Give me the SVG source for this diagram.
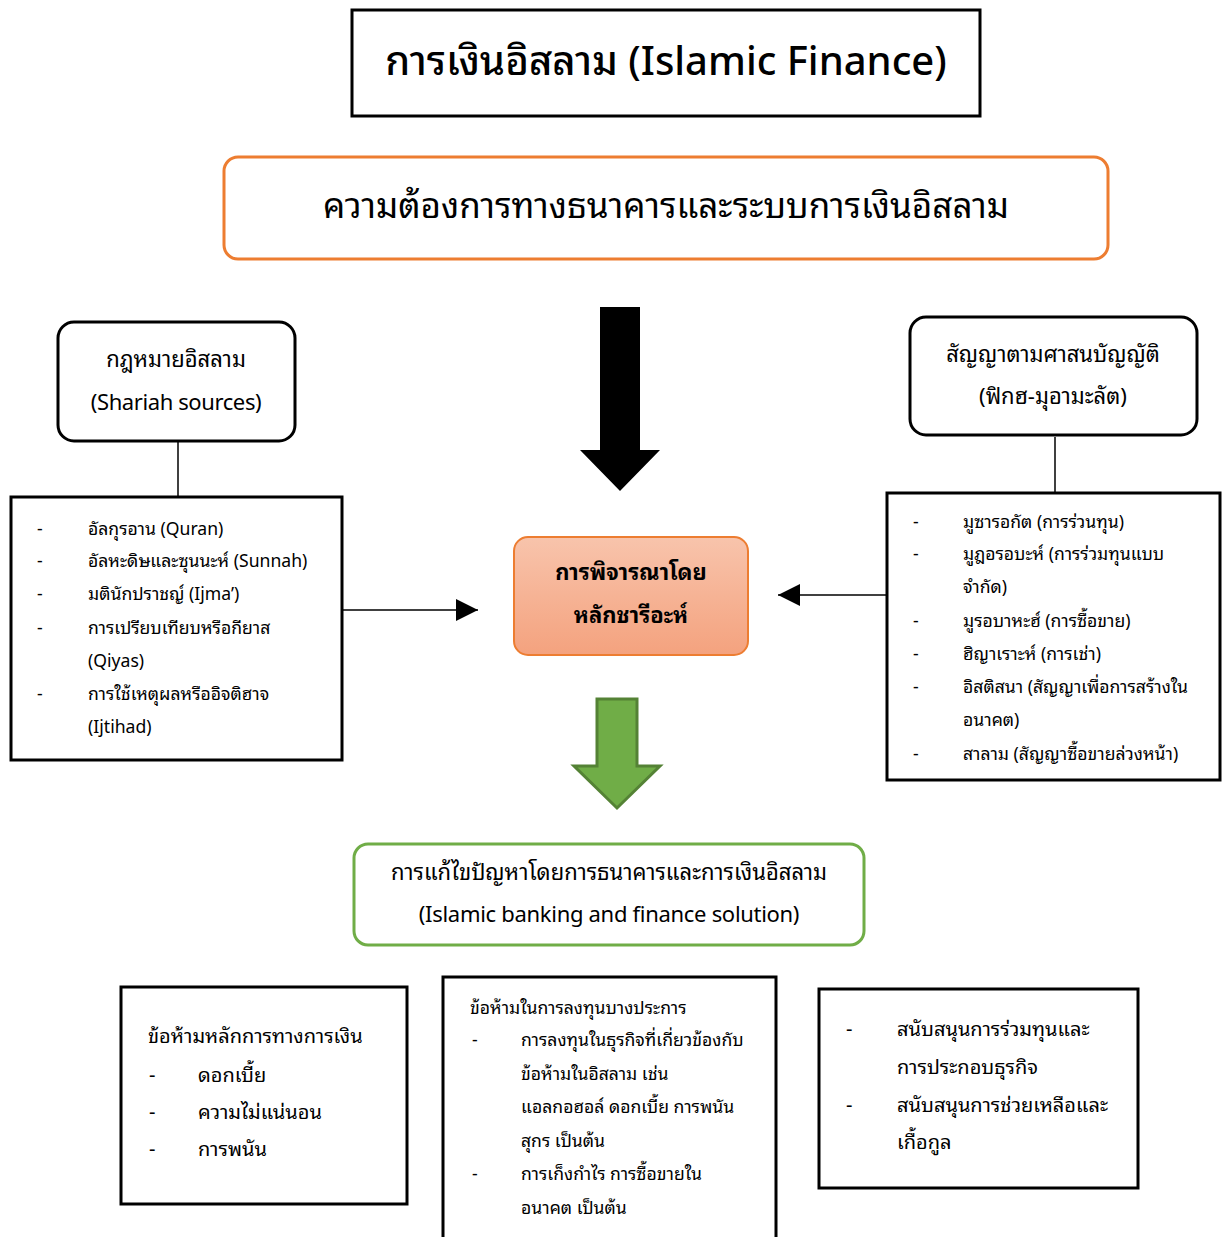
<svg xmlns="http://www.w3.org/2000/svg" width="1228" height="1237" viewBox="0 0 1228 1237">
<defs>
<style>
text{font-family:"Noto Sans","Noto Sans Thai Looped","Noto Sans Thai","Liberation Sans",sans-serif;fill:#000}
.box{fill:#fff;stroke:#000;stroke-width:3}
.c{text-anchor:middle}
.t18{font-size:17.6px}
.t20{font-size:20px}
.t22{font-size:22px}
.conn{stroke:#000;stroke-width:1.5;fill:none}
</style>
<linearGradient id="gOrange" x1="0" y1="0" x2="0" y2="1">
<stop offset="0" stop-color="#F8C4AC"/>
<stop offset="1" stop-color="#F4A27E"/>
</linearGradient>
<marker id="ah" viewBox="0 0 10 10" refX="10" refY="5" markerWidth="22" markerHeight="22" markerUnits="userSpaceOnUse" orient="auto">
<path d="M0,0 L10,5 L0,10 Z" fill="#000"/>
</marker>
</defs>

<g id="title">
<rect class="box" x="352" y="10" width="628" height="106"/>
<text class="c" x="666" y="75" style="font-size:40px;font-weight:500">การเงินอิสลาม (Islamic Finance)</text>
</g>

<g id="need">
<rect x="224" y="157" width="884" height="102" rx="14" fill="#fff" stroke="#ED7D31" stroke-width="3"/>
<text class="c" x="666" y="218" style="font-size:35px">ความต้องการทางธนาคารและระบบการเงินอิสลาม</text>
</g>

<g id="sharia-sources">
<rect class="box" x="58" y="322" width="237" height="119" rx="16"/>
<text class="c t22" x="176" y="367">กฎหมายอิสลาม</text>
<text class="c t22" x="176" y="410" style="letter-spacing:-0.4px">(Shariah sources)</text>
</g>

<g id="sources-list">
<rect class="box" x="11" y="497" width="331" height="263"/>
<g class="t18">
<text x="37" y="535">-</text><text x="88" y="535">อัลกุรอาน (Quran)</text>
<text x="37" y="567">-</text><text x="88" y="567">อัลหะดิษและซุนนะห์ (Sunnah)</text>
<text x="37" y="600">-</text><text x="88" y="600">มตินักปราชญ์ (Ijma’)</text>
<text x="37" y="634">-</text><text x="88" y="634">การเปรียบเทียบหรือกียาส</text>
<text x="88" y="667">(Qiyas)</text>
<text x="37" y="700">-</text><text x="88" y="700">การใช้เหตุผลหรืออิจติฮาจ</text>
<text x="88" y="733">(Ijtihad)</text>
</g>
</g>

<g id="contracts">
<rect class="box" x="910" y="317" width="287" height="118" rx="16"/>
<text class="c t22" x="1053" y="362">สัญญาตามศาสนบัญญัติ</text>
<text class="c t22" x="1053" y="404">(ฟิกฮ-มุอามะลัต)</text>
</g>

<g id="contracts-list">
<rect class="box" x="887" y="493" width="333" height="287"/>
<g class="t18">
<text x="913" y="528">-</text><text x="963" y="528">มูซารอกัต (การร่วนทุน)</text>
<text x="913" y="560">-</text><text x="963" y="560">มูฎอรอบะห์ (การร่วมทุนแบบ</text>
<text x="963" y="593">จำกัด)</text>
<text x="913" y="627">-</text><text x="963" y="627">มูรอบาหะฮ์ (การซื้อขาย)</text>
<text x="913" y="660">-</text><text x="963" y="660">ฮิญาเราะห์ (การเช่า)</text>
<text x="913" y="693">-</text><text x="963" y="693">อิสติสนา (สัญญาเพื่อการสร้างใน</text>
<text x="963" y="726">อนาคต)</text>
<text x="913" y="760">-</text><text x="963" y="760">สาลาม (สัญญาซื้อขายล่วงหน้า)</text>
</g>
</g>

<g id="shariah-consideration">
<rect x="514" y="537" width="234" height="118" rx="14" fill="url(#gOrange)" stroke="#ED7D31" stroke-width="2"/>
<text class="c t22" x="631" y="580" style="font-weight:bold">การพิจารณาโดย</text>
<text class="c t22" x="631" y="623" style="font-weight:bold">หลักชารีอะห์</text>
</g>

<g id="solution">
<rect x="354" y="844" width="510" height="101" rx="14" fill="#fff" stroke="#70AD47" stroke-width="3"/>
<text class="c t22" x="609" y="880">การแก้ไขปัญหาโดยการธนาคารและการเงินอิสลาม</text>
<text class="c t22" x="609" y="922" style="letter-spacing:-0.3px">(Islamic banking and finance solution)</text>
</g>

<g id="prohibitions">
<rect class="box" x="121" y="987" width="286" height="217"/>
<g class="t20">
<text x="148" y="1043">ข้อห้ามหลักการทางการเงิน</text>
<text x="149" y="1082">-</text><text x="198" y="1082">ดอกเบี้ย</text>
<text x="149" y="1119">-</text><text x="198" y="1119">ความไม่แน่นอน</text>
<text x="149" y="1156">-</text><text x="198" y="1156">การพนัน</text>
</g>
</g>

<g id="investment-prohibitions">
<rect class="box" x="443" y="977" width="333" height="275"/>
<g class="t18">
<text x="470" y="1014">ข้อห้ามในการลงทุนบางประการ</text>
<text x="472" y="1046">-</text><text x="521" y="1046">การลงทุนในธุรกิจที่เกี่ยวข้องกับ</text>
<text x="521" y="1080">ข้อห้ามในอิสลาม เช่น</text>
<text x="521" y="1113">แอลกอฮอล์ ดอกเบี้ย การพนัน</text>
<text x="521" y="1147">สุกร เป็นต้น</text>
<text x="472" y="1180">-</text><text x="521" y="1180">การเก็งกำไร การซื้อขายใน</text>
<text x="521" y="1214">อนาคต เป็นต้น</text>
</g>
</g>

<g id="support">
<rect class="box" x="819" y="989" width="319" height="199"/>
<g class="t20">
<text x="846" y="1036">-</text><text x="897" y="1036">สนับสนุนการร่วมทุนและ</text>
<text x="897" y="1074">การประกอบธุรกิจ</text>
<text x="846" y="1112">-</text><text x="897" y="1112">สนับสนุนการช่วยเหลือและ</text>
<text x="897" y="1149">เกื้อกูล</text>
</g>
</g>

<g id="connectors">
<path class="conn" d="M178,441 V497"/>
<path class="conn" d="M1055,437 V493"/>
<path class="conn" d="M342,610 H478" marker-end="url(#ah)"/>
<path class="conn" d="M887,595 H778" marker-end="url(#ah)"/>
<path d="M600,307 H640 V450 H660 L620,491 L580,450 H600 Z" fill="#000"/>
<path d="M597,699 H637 V766 H660 L617,808 L574,766 H597 Z" fill="#70AD47" stroke="#548235" stroke-width="3" stroke-linejoin="miter"/>
</g>
</svg>
